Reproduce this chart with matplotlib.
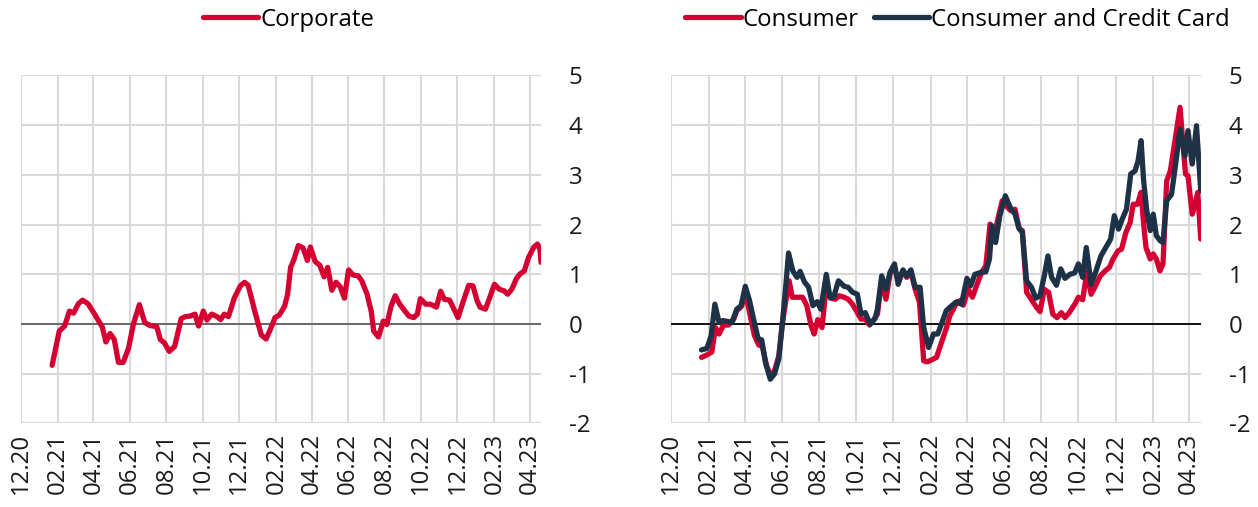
import numpy as np
import pandas as pd
import matplotlib
matplotlib.use("Agg")
import matplotlib.pyplot as plt
import matplotlib.dates as mdates

plt.rcParams['font.family'] = ['Open Sans', 'DejaVu Sans']
plt.rcParams['axes.unicode_minus'] = False

BASE_DATE = '2020-12-01'
END_DATE = '2023-04-20'

# Corporate (days since BASE_DATE, value)
corp_days = [52, 64, 73, 81, 88, 96, 103, 112, 121, 130, 136, 142, 149, 156, 163, 171, 180, 188,
             198, 207, 216, 227, 233, 240, 248, 257, 268, 275, 283, 291, 297, 305, 311, 319, 328,
             334, 340, 347, 357, 367, 374, 380, 391, 402, 410, 417, 425, 432, 441, 446, 451, 456,
             464, 472, 479, 484, 492, 500, 507, 513, 520, 527, 534, 541, 548, 555, 564, 570, 579,
             586, 590, 598, 606, 612, 619, 626, 633, 641, 649, 657, 663, 668, 677, 685, 695, 702,
             708, 717, 723, 731, 741, 749, 756, 763, 768, 777, 784, 792, 800, 808, 814, 821, 829,
             835, 842, 849, 858, 864, 868, 870]
corp_vals = [-0.83, -0.14, -0.04, 0.26, 0.22, 0.41, 0.48, 0.41, 0.24, 0.06, -0.06, -0.36, -0.19,
             -0.31, -0.77, -0.77, -0.48, 0.0, 0.39, 0.03, -0.03, -0.05, -0.31, -0.38, -0.55, -0.45,
             0.11, 0.15, 0.16, 0.20, -0.04, 0.26, 0.08, 0.20, 0.15, 0.09, 0.20, 0.15, 0.53, 0.77,
             0.84, 0.78, 0.26, -0.22, -0.30, -0.11, 0.13, 0.18, 0.36, 0.60, 1.14, 1.28, 1.58, 1.53,
             1.28, 1.55, 1.26, 1.18, 0.95, 1.14, 0.68, 0.84, 0.75, 0.52, 1.09, 0.99, 0.97, 0.87,
             0.60, 0.25, -0.14, -0.26, 0.06, -0.01, 0.36, 0.57, 0.41, 0.28, 0.16, 0.13, 0.20, 0.51,
             0.40, 0.40, 0.34, 0.66, 0.50, 0.48, 0.33, 0.13, 0.50, 0.78, 0.77, 0.47, 0.34, 0.30,
             0.53, 0.80, 0.70, 0.67, 0.60, 0.70, 0.92, 1.01, 1.07, 1.34, 1.55, 1.61, 1.51, 1.24]

# Consumer
cons_days = [50, 59, 67, 73, 79, 86, 94, 103, 108, 116, 122, 130, 137, 144, 150, 157, 163, 170,
             177, 183, 189, 194, 199, 207, 216, 223, 230, 235, 241, 248, 255, 262, 270, 276, 284,
             291, 298, 306, 312, 319, 326, 332, 339, 346, 353, 360, 367, 373, 381, 387, 394, 401,
             408, 415, 421, 428, 436, 445, 452, 458, 467, 474, 480, 488, 495, 502, 510, 517, 524,
             531, 538, 544, 550, 558, 565, 572, 577, 584, 593, 600, 606, 613, 620, 627, 634, 641,
             647, 654, 663, 669, 676, 683, 690, 696, 705, 713, 720, 726, 734, 740, 747, 754, 759,
             766, 772, 776, 780, 787, 792, 797, 803, 808, 814, 820, 828, 836, 841, 845, 849, 856,
             860, 865, 870]
cons_vals = [-0.67, -0.62, -0.56, -0.07, -0.20, -0.02, -0.02, 0.10, 0.27, 0.36, 0.64, 0.17, -0.23,
             -0.42, -0.45, -0.84, -1.03, -0.94, -0.64, 0.03, 0.50, 0.87, 0.54, 0.54, 0.54, 0.37,
             -0.03, -0.20, 0.09, -0.07, 0.77, 0.52, 0.50, 0.57, 0.54, 0.50, 0.40, 0.23, 0.10, 0.10,
             -0.02, 0.07, 0.20, 0.90, 0.50, 1.04, 1.11, 0.90, 1.07, 0.94, 1.04, 0.70, 0.44, -0.74,
             -0.76, -0.72, -0.67, -0.34, -0.09, 0.17, 0.38, 0.47, 0.38, 0.70, 0.54, 0.78, 1.04,
             1.17, 2.01, 1.78, 2.18, 2.48, 2.38, 2.28, 2.31, 1.91, 1.88, 0.64, 0.47, 0.34, 0.25,
             0.70, 0.64, 0.20, 0.13, 0.23, 0.13, 0.23, 0.40, 0.54, 0.49, 1.04, 0.60, 0.74, 0.97,
             1.07, 1.14, 1.31, 1.47, 1.51, 1.84, 2.04, 2.41, 2.41, 2.65, 2.04, 1.54, 1.31, 1.41,
             1.31, 1.07, 1.21, 2.88, 3.08, 3.72, 4.36, 3.58, 3.02, 2.98, 2.21, 2.38, 2.65, 1.71]

# Consumer and Credit Card
cc_days = [50, 59, 66, 72, 79, 85, 94, 100, 108, 115, 122, 129, 135, 143, 149, 155, 163, 170,
           177, 183, 189, 193, 200, 207, 212, 219, 226, 233, 240, 246, 255, 261, 267, 275, 281,
           284, 291, 298, 306, 312, 319, 327, 335, 339, 346, 353, 360, 367, 373, 381, 387, 394,
           401, 409, 415, 423, 431, 438, 445, 452, 461, 469, 477, 486, 492, 499, 509, 517, 523,
           527, 533, 540, 549, 557, 565, 571, 577, 584, 592, 599, 606, 613, 619, 625, 633, 640,
           647, 655, 663, 669, 676, 682, 690, 698, 706, 714, 722, 728, 735, 741, 748, 755, 762,
           767, 772, 776, 781, 787, 792, 797, 803, 808, 814, 822, 828, 836, 844, 849, 856, 863,
           870]
cc_vals = [-0.52, -0.49, -0.23, 0.40, 0.03, 0.07, 0.05, 0.03, 0.30, 0.37, 0.76, 0.47, 0.13, -0.29,
           -0.32, -0.77, -1.11, -1.00, -0.70, 0.03, 0.84, 1.43, 1.07, 0.94, 1.06, 0.85, 0.74, 0.37,
           0.45, 0.30, 1.00, 0.54, 0.54, 0.87, 0.80, 0.76, 0.74, 0.64, 0.60, 0.20, 0.23, 0.00, 0.11,
           0.30, 0.97, 0.70, 1.05, 1.21, 0.80, 1.09, 0.97, 1.09, 0.74, 0.74, -0.07, -0.47, -0.20,
           -0.20, 0.03, 0.27, 0.37, 0.45, 0.40, 0.92, 0.77, 1.00, 1.04, 1.05, 1.31, 1.98, 1.64,
           2.18, 2.58, 2.35, 2.21, 1.94, 1.84, 0.87, 0.74, 0.52, 0.57, 0.97, 1.37, 0.94, 0.78,
           1.11, 0.92, 1.00, 1.03, 1.21, 0.94, 1.54, 0.80, 1.07, 1.37, 1.54, 1.71, 2.18, 1.91,
           2.11, 2.31, 3.02, 3.08, 3.28, 3.69, 2.91, 2.31, 1.88, 2.21, 1.78, 1.68, 1.64, 2.48,
           2.61, 3.15, 3.92, 3.38, 3.89, 3.22, 3.99, 2.68]

y_ticks = [-2, -1, 0, 1, 2, 3, 4, 5]

RED = '#D50032'
NAVY = '#1E3247'
GRID = '#D9D9D9'
FS = 17.3


def to_dates(days):
    return pd.Timestamp(BASE_DATE) + pd.to_timedelta(days, unit='D')


def style_axis(ax, zero_color):
    ax.set_ylim(-2, 5)
    ax.set_yticks(y_ticks)
    ax.set_xlim(pd.Timestamp(BASE_DATE), pd.Timestamp(END_DATE))
    ax.xaxis.set_major_locator(mdates.MonthLocator(bymonth=[2, 4, 6, 8, 10, 12]))
    ax.xaxis.set_major_formatter(mdates.DateFormatter('%m.%y'))
    ax.yaxis.tick_right()
    for lab in ax.get_xticklabels():
        lab.set_rotation(90)
    ax.tick_params(axis='both', length=0, labelsize=FS, colors='#1a1a1a')
    ax.tick_params(axis='y', pad=20)
    ax.tick_params(axis='x', pad=7)
    for lab in ax.get_yticklabels():
        lab.set_horizontalalignment('left')
    ax.grid(True, color=GRID, linewidth=1.5)
    ax.set_axisbelow(True)
    for s in ax.spines.values():
        s.set_visible(False)
    ax.axhline(0, color=zero_color, linewidth=1.3, zorder=2)


fig = plt.figure(figsize=(12.58, 5.07), dpi=100)
ax1 = fig.add_axes([0.0167, 0.1647, 0.4134, 0.6864])
ax2 = fig.add_axes([0.5334, 0.1647, 0.4211, 0.6864])

ax1.plot(to_dates(corp_days), corp_vals, color=RED, linewidth=3.8, label='Corporate',
         solid_capstyle='round', solid_joinstyle='round', zorder=3)
style_axis(ax1, '#5f5f5f')

ax2.plot(to_dates(cons_days), cons_vals, color=RED, linewidth=3.8, label='Consumer',
         solid_capstyle='round', solid_joinstyle='round', zorder=3)
ax2.plot(to_dates(cc_days), cc_vals, color=NAVY, linewidth=3.8, label='Consumer and Credit Card',
         solid_capstyle='round', solid_joinstyle='round', zorder=4)
style_axis(ax2, '#000000')

for ax, cx in ((ax1, 0.515), (ax2, 0.541)):
    ax.legend(loc='center', bbox_to_anchor=(cx, 1.16), ncol=2, frameon=False, fontsize=FS,
              handlelength=2.3, handletextpad=0.1, columnspacing=0.6)

fig.savefig('out.png', dpi=100)
